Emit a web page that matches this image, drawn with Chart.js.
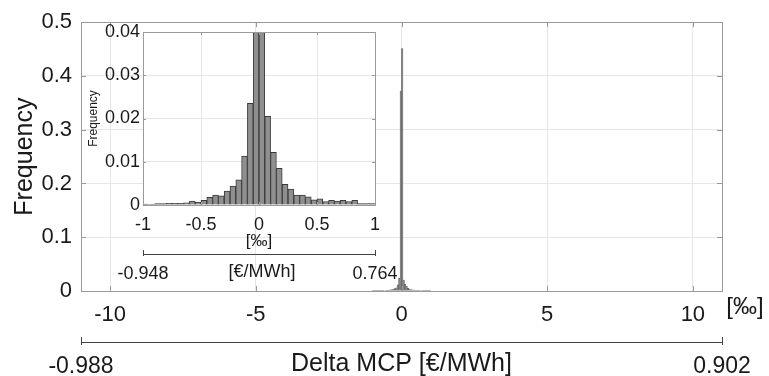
<!DOCTYPE html>
<html>
<head>
<meta charset="utf-8">
<script src="https://cdn.jsdelivr.net/npm/chart.js@4/dist/chart.umd.min.js"></script>
<style>
  html, body { margin: 0; padding: 0; background: #fff; }
  #wrap { position: relative; width: 769px; height: 376px; }
  #main { position: absolute; left: 0; top: 0; }
  #inset { position: absolute; left: 80px; top: 0; }
</style>
</head>
<body>
<div id="wrap">
  <canvas id="main" width="769" height="376"></canvas>
  <canvas id="inset" width="340" height="290"></canvas>
</div>
<script>
// histogram bins (centres, in per mille) and relative frequencies
var binCenters = [
  -0.975, -0.925, -0.875, -0.825, -0.775, -0.725, -0.675, -0.625, -0.575, -0.525,
  -0.475, -0.425, -0.375, -0.325, -0.275, -0.225, -0.175, -0.125, -0.075, -0.025,
   0.025,  0.075,  0.125,  0.175,  0.225,  0.275,  0.325,  0.375,  0.425,  0.475,
   0.525,  0.575,  0.625,  0.675,  0.725,  0.775,  0.825,  0.875,  0.925,  0.975
];
var frequency = [
  0.0002, 0.0001, 0.0003, 0.0003, 0.0004, 0.0004, 0.0004, 0.0005, 0.0009, 0.0007,
  0.0011, 0.0018, 0.0023, 0.0021, 0.0032, 0.0044, 0.0058, 0.0113, 0.0235, 0.372,
  0.451,  0.0205, 0.0122, 0.0085, 0.0048, 0.0037, 0.0023, 0.0023, 0.0019, 0.0012,
  0.0014, 0.0008, 0.0011, 0.0009, 0.0011, 0.0008, 0.0011, 0.0003, 0.0003, 0.0003
];

// axis ticks
var mainXTicks = [-10, -5, 0, 5, 10];
var mainYTicks = [0, 0.1, 0.2, 0.3, 0.4, 0.5];
var mainEuroRange = [-0.988, 0.902];
var insetXTicks = [-1, -0.5, 0, 0.5, 1];
var insetYTicks = [0, 0.01, 0.02, 0.03, 0.04];
var insetEuroRange = [-0.948, 0.764];

var FONT = "'Liberation Sans', Arial, sans-serif";
var TXT = '#1a1a1a';
var GRID = '#e6e6e6';
var FRAME = '#9a9a9a';

var points = binCenters.map(function(c, i) { return { x: c, y: frequency[i] }; });

function fixTicks(list) {
  return function(scale) { scale.ticks = list.map(function(v) { return { value: v }; }); };
}
function fmt(v) { return String(Math.round(v * 1000) / 1000); }

// box around the plot area, inward tick marks, extra labels
var framePlugin = {
  id: 'frame',
  afterDraw: function(chart, args, opts) {
    var ctx = chart.ctx, a = chart.chartArea, len = opts.tick;
    var sx = chart.scales.x, sy = chart.scales.y, s2 = chart.scales.x2;
    ctx.save();
    ctx.strokeStyle = FRAME;
    ctx.lineWidth = 1;
    ctx.strokeRect(Math.round(a.left) + 0.5, Math.round(a.top) + 0.5,
      Math.round(a.right - a.left), Math.round(a.bottom - a.top));
    ctx.beginPath();
    sx.ticks.forEach(function(t) {
      var px = Math.round(sx.getPixelForValue(t.value)) + 0.5;
      ctx.moveTo(px, a.bottom); ctx.lineTo(px, a.bottom - len);
      ctx.moveTo(px, a.top); ctx.lineTo(px, a.top + len);
    });
    sy.ticks.forEach(function(t) {
      var py = Math.round(sy.getPixelForValue(t.value)) + 0.5;
      ctx.moveTo(a.left, py); ctx.lineTo(a.left + len, py);
      ctx.moveTo(a.right, py); ctx.lineTo(a.right - len, py);
    });
    ctx.stroke();
    // end marks on the euro axis
    ctx.strokeStyle = '#444';
    ctx.beginPath();
    s2.ticks.forEach(function(t) {
      var px = Math.round(s2.getPixelForValue(t.value)) + 0.5;
      ctx.moveTo(px, s2.top - opts.endUp); ctx.lineTo(px, s2.top + opts.endDown);
    });
    ctx.stroke();
    ctx.fillStyle = TXT;
    ctx.textAlign = 'center';
    ctx.textBaseline = 'middle';
    ctx.font = opts.unitFont + 'px ' + FONT;
    ctx.fillText(opts.unitText, (s2.left + s2.right) / 2 + opts.unitDx, s2.top + opts.unitDy);
    if (opts.permille) {
      ctx.font = opts.permilleFont + 'px ' + FONT;
      ctx.fillText('[‰]', a.right + 23, a.bottom + 16);
    }
    ctx.restore();
  }
};

var whiteArea = {
  id: 'whiteArea',
  beforeDraw: function(chart) {
    var a = chart.chartArea;
    chart.ctx.save();
    chart.ctx.fillStyle = '#fff';
    chart.ctx.fillRect(a.left, a.top, a.right - a.left, a.bottom - a.top);
    chart.ctx.restore();
  }
};

new Chart(document.getElementById('main'), {
  type: 'bar',
  data: {
    datasets: [{
      data: points,
      backgroundColor: '#8a8a8a',
      borderColor: '#555',
      borderWidth: 0.5,
      barPercentage: 1,
      categoryPercentage: 1
    }]
  },
  options: {
    responsive: false,
    animation: false,
    layout: { padding: { top: 15, right: 47, left: 0, bottom: 0 } },
    plugins: {
      legend: { display: false },
      tooltip: { enabled: false },
      frame: { tick: 5, endUp: 5, endDown: 3, unitText: 'Delta MCP [€/MWh]', unitFont: 25, unitDx: 0, unitDy: 22, permille: true, permilleFont: 24 }
    },
    scales: {
      x: {
        type: 'linear', min: -11, max: 11, offset: false,
        afterBuildTicks: fixTicks(mainXTicks),
        ticks: { font: { family: FONT, size: 22 }, color: TXT, padding: 11, maxRotation: 0, callback: fmt },
        grid: { color: GRID, drawTicks: false, offset: false },
        border: { color: FRAME },
        afterFit: function(s) { s.height = 51; }
      },
      x2: {
        type: 'linear', position: 'bottom', weight: 1,
        min: mainEuroRange[0], max: mainEuroRange[1], offset: false,
        afterBuildTicks: fixTicks(mainEuroRange),
        ticks: { font: { family: FONT, size: 23 }, color: TXT, padding: 11, maxRotation: 0,
          callback: function(v) { return v.toFixed(3); } },
        grid: { display: false, drawTicks: false },
        border: { display: true, color: '#444' },
        afterFit: function(s) { s.height = 34; }
      },
      y: {
        min: 0, max: 0.5,
        afterBuildTicks: fixTicks(mainYTicks),
        ticks: { font: { family: FONT, size: 22 }, color: TXT, padding: 9, callback: fmt },
        grid: { color: GRID, drawTicks: false },
        border: { color: FRAME },
        title: { display: true, text: 'Frequency', color: TXT, font: { family: FONT, size: 25 }, padding: { top: 10, bottom: 0 } },
        afterFit: function(s) { s.width = 81; }
      }
    }
  },
  plugins: [framePlugin]
});

new Chart(document.getElementById('inset'), {
  type: 'bar',
  data: {
    datasets: [{
      data: points,
      backgroundColor: '#8f8f8f',
      borderColor: '#3a3a3a',
      borderWidth: 1,
      barPercentage: 1,
      categoryPercentage: 1
    }]
  },
  options: {
    responsive: false,
    animation: false,
    layout: { padding: { top: 32, right: 45, left: 0, bottom: 0 } },
    plugins: {
      legend: { display: false },
      tooltip: { enabled: false },
      frame: { tick: 3, endUp: 4, endDown: 2, unitText: '[€/MWh]', unitFont: 18, unitDx: 3, unitDy: 18, permille: false }
    },
    scales: {
      x: {
        type: 'linear', min: -1, max: 1, offset: false,
        afterBuildTicks: fixTicks(insetXTicks),
        ticks: { font: { family: FONT, size: 18 }, color: TXT, padding: 9, maxRotation: 0, callback: fmt },
        grid: { color: GRID, drawTicks: false, offset: false },
        border: { color: FRAME },
        title: { display: true, text: '[‰]', color: TXT, font: { family: FONT, size: 17 }, padding: { top: 0, bottom: 2 } },
        afterFit: function(s) { s.height = 49; }
      },
      x2: {
        type: 'linear', position: 'bottom', weight: 1,
        min: insetEuroRange[0], max: insetEuroRange[1], offset: false,
        afterBuildTicks: fixTicks(insetEuroRange),
        ticks: { font: { family: FONT, size: 18 }, color: TXT, padding: 9, maxRotation: 0,
          callback: function(v) { return v.toFixed(3); } },
        grid: { display: false, drawTicks: false },
        border: { display: true, color: '#444' },
        afterFit: function(s) { s.height = 36; }
      },
      y: {
        min: 0, max: 0.04,
        afterBuildTicks: fixTicks(insetYTicks),
        ticks: { font: { family: FONT, size: 18 }, color: TXT, padding: 3, callback: fmt },
        grid: { color: GRID, drawTicks: false },
        border: { color: FRAME },
        title: { display: true, text: 'Frequency', color: TXT, font: { family: FONT, size: 12 }, padding: { top: 6, bottom: 0 } },
        afterFit: function(s) { s.width = 63; }
      }
    }
  },
  plugins: [whiteArea, framePlugin]
});
</script>
</body>
</html>
